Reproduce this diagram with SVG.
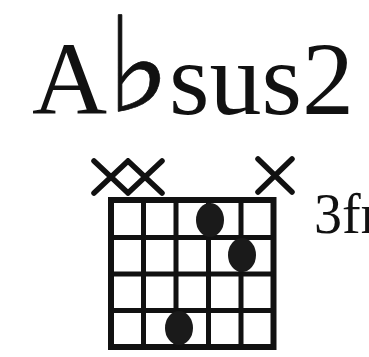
<svg xmlns="http://www.w3.org/2000/svg" width="369" height="357" viewBox="0 0 369 357">
<style>
.t{font-family:"Liberation Serif","Times New Roman",serif;fill:#111}
.g{stroke:#111;stroke-width:5;fill:none}
.b{stroke:#111;stroke-width:6;fill:none}
.x{stroke:#111;stroke-width:5.5;fill:none;stroke-linecap:round}
.d{fill:#1a1a1a}
</style>
<rect width="369" height="357" fill="#fff"/>
<g id="title">
<text class="t" x="32" y="114" font-size="104">A</text>
<text transform="translate(106,111) scale(1.25,1.2)" x="0" y="0" font-family="DejaVu Sans,sans-serif" font-size="110" fill="#111" stroke="#111" stroke-width="0.6">♭</text>
<text class="t" x="169" y="114" font-size="104">sus2</text>
</g>
<g id="grid">
<rect class="b" x="111" y="200" width="162.5" height="147"/>
<path class="g" d="M143.5 200V347M176 200V347M208.5 200V347M241 200V347M111 237.5H273.5M111 274H273.5M111 310.5H273.5"/>
</g>
<g id="mutes">
<path class="x" d="M94 161L128 193M94 193L128 161M128 161L162 193M128 193L162 161"/>
<path class="x" d="M258 159L292 192M258 192L292 159"/>
</g>
<g id="dots">
<ellipse class="d" cx="210" cy="220" rx="14" ry="17"/>
<ellipse class="d" cx="242" cy="255" rx="14" ry="17"/>
<ellipse class="d" cx="179" cy="328" rx="14" ry="17"/>
</g>
<g id="fret-label">
<text class="t" x="314" y="233" font-size="56">3fr</text>
</g>
</svg>
